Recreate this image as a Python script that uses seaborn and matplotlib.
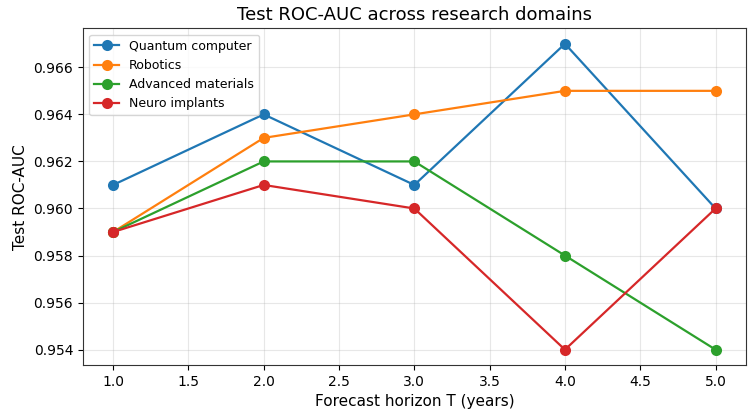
import pandas as pd
import matplotlib.pyplot as plt
import seaborn as sns

horizon = [1.0, 2.0, 3.0, 4.0, 5.0]
domains = ["Quantum computer", "Robotics", "Advanced materials", "Neuro implants"]
quantum = [0.961, 0.964, 0.961, 0.967, 0.960]
robotics = [0.959, 0.963, 0.964, 0.965, 0.965]
materials = [0.959, 0.962, 0.962, 0.958, 0.954]
neuro = [0.959, 0.961, 0.960, 0.954, 0.960]

df = pd.DataFrame({
    "T": horizon * 4,
    "auc": quantum + robotics + materials + neuro,
    "domain": [d for d in domains for _ in horizon],
})

fig, ax = plt.subplots(figsize=(7.54, 4.19), dpi=100)
sns.lineplot(data=df, x="T", y="auc", hue="domain", hue_order=domains,
             palette=["#1f77b4", "#ff7f0e", "#2ca02c", "#d62728"],
             marker="o", markersize=8, markeredgewidth=0, linewidth=1.6, ax=ax)

ax.set_title("Test ROC-AUC across research domains", fontsize=13)
ax.set_xlabel("Forecast horizon T (years)", fontsize=11)
ax.set_ylabel("Test ROC-AUC", fontsize=11)
ax.grid(True, alpha=0.3)
for s in ax.spines.values():
    s.set_color("#333333")
ax.legend(loc="upper left", fontsize=9, title=None)

fig.subplots_adjust(left=0.110, right=0.989, top=0.932, bottom=0.129)
plt.savefig("out.png", dpi=100)
